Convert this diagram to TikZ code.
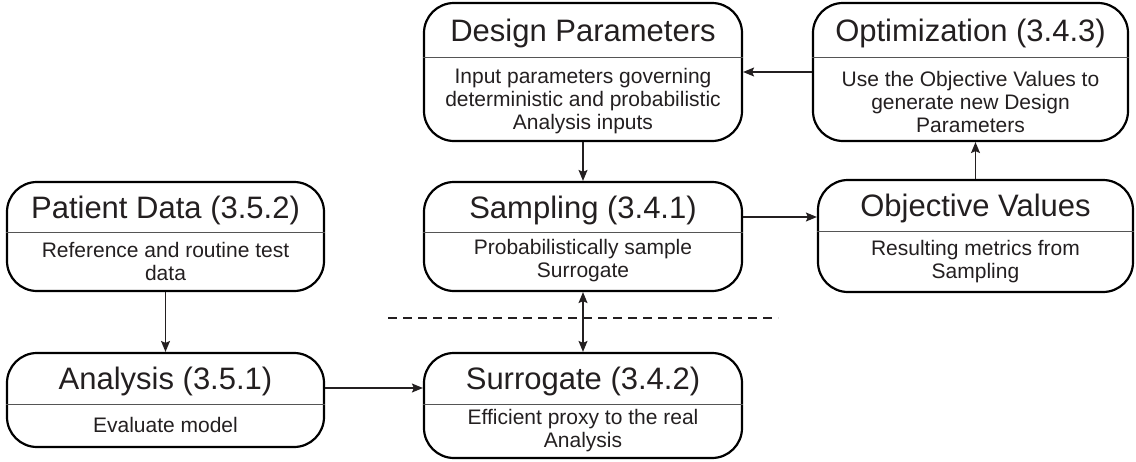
\documentclass[tikz,border=0pt]{standalone}
\usepackage{fontspec}
\setmainfont{Liberation Sans}
\usetikzlibrary{arrows.meta}
\definecolor{txt}{HTML}{231F20}
\definecolor{divc}{HTML}{555555}
\tikzset{
  box/.style={draw=black, line width=2.2pt, rounded corners=30pt, inner sep=0pt},
  ttl/.style={font=\fontsize{31}{34}\selectfont, text=txt, inner sep=0pt, anchor=base},
  bdy/.style={font=\fontsize{21}{23}\selectfont, text=txt, align=center, inner sep=0pt},
  divl/.style={draw=divc, line width=1pt},
  arr/.style={-{Stealth[length=11pt,width=9pt,inset=2pt]}, line width=1.3pt, draw=txt},
  darr/.style={{Stealth[length=11pt,width=9pt,inset=2pt]}-{Stealth[length=11pt,width=9pt,inset=2pt]}, line width=1.3pt, draw=txt},
  dline/.style={draw=txt, line width=1.2pt, dash pattern=on 9pt off 6pt},
}
\begin{document}
\begin{tikzpicture}[x=1pt,y=-1pt]
\useasboundingbox (0,0) rectangle (1136,461);

% Design Parameters
\node[box, minimum width=318pt, minimum height=138pt] (dp) at (583,72) {};
\node[ttl] (dpt) at (583,41) {Design Parameters};
\coordinate (dpd) at (583,57);
\draw[divl] (dp.west |- dpd) -- (dp.east |- dpd);
\node[bdy] (dpb) at (583,101.5) {Input parameters governing\\deterministic and probabilistic\\Analysis inputs};

% Optimization
\node[box, minimum width=315pt, minimum height=138pt] (opt) at (970.5,72) {};
\node[ttl] (optt) at (970.5,41) {Optimization (3.4.3)};
\coordinate (optd) at (970.5,57);
\draw[divl] (opt.west |- optd) -- (opt.east |- optd);
\node[bdy] (optb) at (970.5,101.5) {Use the Objective Values to\\generate new Design\\Parameters};

% Patient Data
\node[box, minimum width=317pt, minimum height=109pt] (pat) at (165.5,236.5) {};
\node[ttl] (patt) at (165.5,218) {Patient Data (3.5.2)};
\coordinate (patd) at (165.5,232);
\draw[divl] (pat.west |- patd) -- (pat.east |- patd);
\node[bdy] (patb) at (165.5,261) {Reference and routine test\\data};

% Sampling
\node[box, minimum width=318pt, minimum height=109pt] (samp) at (583,236.5) {};
\node[ttl] (sampt) at (583,218) {Sampling (3.4.1)};
\coordinate (sampd) at (583,232);
\draw[divl] (samp.west |- sampd) -- (samp.east |- sampd);
\node[bdy] (sampb) at (583,261) {Probabilistically sample\\Surrogate};

% Objective Values
\node[box, minimum width=315pt, minimum height=112pt] (obj) at (975.5,236) {};
\node[ttl] (objt) at (975.5,216.5) {Objective Values};
\coordinate (objd) at (975.5,231);
\draw[divl] (obj.west |- objd) -- (obj.east |- objd);
\node[bdy] (objb) at (975.5,261.5) {Resulting metrics from\\Sampling};

% Analysis
\node[box, minimum width=317pt, minimum height=94pt] (ana) at (165.5,400) {};
\node[ttl] (anat) at (165.5,389.5) {Analysis (3.5.1)};
\coordinate (anad) at (165.5,404);
\draw[divl] (ana.west |- anad) -- (ana.east |- anad);
\node[bdy] (anab) at (165.5,425) {Evaluate model};

% Surrogate
\node[box, minimum width=318pt, minimum height=105pt] (sur) at (583,405.5) {};
\node[ttl] (surt) at (583,389.5) {Surrogate (3.4.2)};
\coordinate (surd) at (583,404);
\draw[divl] (sur.west |- surd) -- (sur.east |- surd);
\node[bdy] (surb) at (583,431) {Efficient proxy to the real\\Analysis};

% connectors
\draw[arr] (opt.west) -- (dp.east);
\draw[arr] (dp.south) -- (samp.north);
\coordinate (ySO) at (0,217);
\draw[arr] (samp.east |- ySO) -- (obj.west |- ySO);
\draw[arr] (obj.north) -- (opt.south -| obj.north);
\draw[arr] (pat.south) -- (ana.north);
\coordinate (yAS) at (0,388);
\draw[arr] (ana.east |- yAS) -- (sur.west |- yAS);
\draw[darr] (samp.south) -- (sur.north);

% dashed separator
\coordinate (dl) at (388,318);
\coordinate (dr) at (778,318);
\draw[dline] (dl) -- (dr);
\end{tikzpicture}
\end{document}
